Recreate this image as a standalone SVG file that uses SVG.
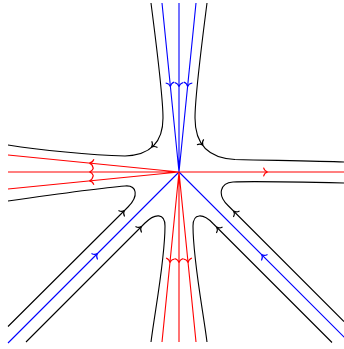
<svg xmlns="http://www.w3.org/2000/svg" xmlns:xlink="http://www.w3.org/1999/xlink" width="344" height="349" viewBox="0 0 344 349">
<style>
.k{stroke:#000;fill:none;stroke-width:1.1}
.b{stroke:#0000ff;fill:none;stroke-width:1.1}
.r{stroke:#ff0000;fill:none;stroke-width:1.1}
</style>
<defs>
<path id="a" d="M-3.5,-4.3 C-2.8,-1.8 -1,-0.4 0.6,0 M-3.5,4.3 C-2.8,1.8 -1,0.4 0.6,0"/>
</defs>
<rect width="344" height="349" fill="#fff"/>
<g id="trajectories">
<path class="k" d="M151,3 C157,50 163,95 163,118 C163,140 152,155 125,156 C90,155 40,150 8,145"/>
<path class="k" d="M207,3 C201,50 195,95 195,118 C195,140 205,158 235,159.5 C280,160.5 320,161 344,162"/>
<path class="k" d="M8,201 C50,195 100,188 125,186 C137,185 139,196 128,207 L8,326.5"/>
<path class="k" d="M26,342 L145,223 C155,213 165,213 165,226 C165,260 155,310 151,342"/>
<path class="k" d="M332,342.5 L213,223.5 C203,213 193,213 193,226 C193,260 203,310 207,342"/>
<path class="k" d="M344,183 C300,182 250,181 233,182 C220,183 217,195 228,205.5 L344,321.5"/>
</g>
<g id="separatrices">
<path class="b" d="M162,3 L179,172 M179,3 L179,172 M196,3 L179,172 M179,172 L8,343 M179,172 L350,343"/>
<path class="r" d="M8,155 L179,172 M8,172 L344,172 M8,189 L179,172 M179,172 L162,342 M179,172 L179,342 M179,172 L196,342"/>
</g>
<g id="arrows">
<use xlink:href="#a" class="b" transform="translate(170.3,86) rotate(84.3)"/>
<use xlink:href="#a" class="b" transform="translate(179,86) rotate(90)"/>
<use xlink:href="#a" class="b" transform="translate(187.7,86) rotate(95.7)"/>
<use xlink:href="#a" class="b" transform="translate(97,254) rotate(-45)"/>
<use xlink:href="#a" class="b" transform="translate(262,255) rotate(-135)"/>
<use xlink:href="#a" class="r" transform="translate(90,163.2) rotate(185.7)"/>
<use xlink:href="#a" class="r" transform="translate(90,172) rotate(180)"/>
<use xlink:href="#a" class="r" transform="translate(90,180.8) rotate(174.3)"/>
<use xlink:href="#a" class="r" transform="translate(267,172)"/>
<use xlink:href="#a" class="r" transform="translate(170,262) rotate(95.7)"/>
<use xlink:href="#a" class="r" transform="translate(179,262) rotate(90)"/>
<use xlink:href="#a" class="r" transform="translate(188,262) rotate(84.3)"/>
<use xlink:href="#a" class="k" transform="translate(152,146.7) rotate(138)"/>
<use xlink:href="#a" class="k" transform="translate(202.5,144.8) rotate(52)"/>
<use xlink:href="#a" class="k" transform="translate(124,211) rotate(-45)"/>
<use xlink:href="#a" class="k" transform="translate(141,227) rotate(-45)"/>
<use xlink:href="#a" class="k" transform="translate(217,227.5) rotate(-135)"/>
<use xlink:href="#a" class="k" transform="translate(234,211.5) rotate(-135)"/>
</g>
</svg>
